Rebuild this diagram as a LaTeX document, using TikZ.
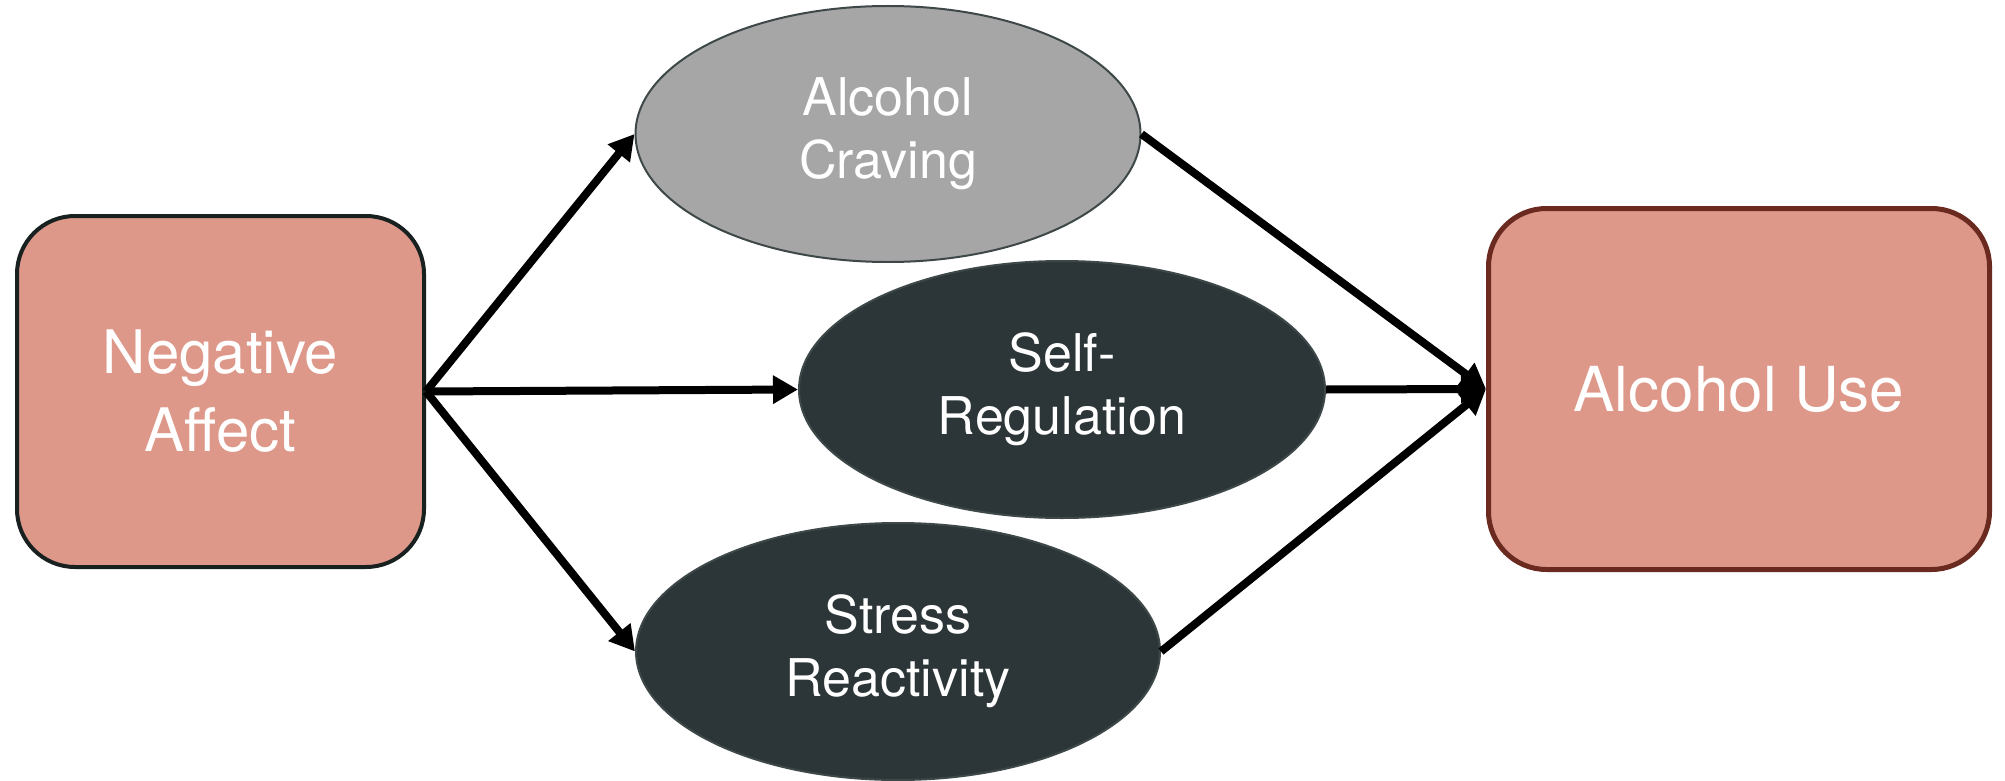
\documentclass[tikz,border=0pt]{standalone}
\usepackage{fontspec}
\setmainfont{TeX Gyre Heros}
\usetikzlibrary{shapes.geometric,arrows.meta}
\definecolor{salmon}{HTML}{DE988A}
\definecolor{boxline}{HTML}{182020}
\definecolor{useline}{HTML}{6B2A20}
\definecolor{cravefill}{HTML}{A6A6A6}
\definecolor{darkfill}{HTML}{2C3537}
\definecolor{ovalline}{HTML}{3E4848}
\tikzset{
  factor/.style={rectangle, rounded corners=58pt, fill=salmon, inner sep=0pt,
    text=white, align=center},
  mediator/.style={ellipse, inner sep=0pt, draw=ovalline, line width=2pt,
    text=white, align=center, font=\fontsize{52}{63}\selectfont},
  path arrow/.style={line width=8pt, -{Triangle[length=25pt,width=27pt]}}
}
\begin{document}
\begin{tikzpicture}[x=1pt,y=-1pt]
\useasboundingbox (0,0) rectangle (2005,781);
% outcome and predictor boxes
\node[factor, draw=boxline, line width=4pt, minimum width=407pt, minimum height=351pt,
  font=\fontsize{60}{78}\selectfont]
  (na) at (220.5,391.5) {Negative\\Affect};
\node[factor, draw=useline, line width=5pt, minimum width=501pt, minimum height=361pt,
  font=\fontsize{62}{78}\selectfont]
  (au) at (1739,389) {Alcohol Use};
% mediators
\node[mediator, fill=cravefill, minimum width=505pt, minimum height=256pt]
  (crave) at (888,134) {Alcohol\\Craving};
\node[mediator, fill=darkfill, minimum width=526pt, minimum height=257pt]
  (selfreg) at (1062,389.5) {Self-\\Regulation};
\node[mediator, fill=darkfill, minimum width=524pt, minimum height=257pt]
  (stress) at (898,651.5) {Stress\\Reactivity};
% paths from predictor to mediators
\draw[path arrow] (na.east) -- (crave.west);
\draw[path arrow] (na.east) -- (selfreg.west);
\draw[path arrow] (na.east) -- (stress.west);
% paths from mediators to outcome
\draw[path arrow] (crave.east) -- (au.west);
\draw[path arrow] (selfreg.east) -- (au.west);
\draw[path arrow] (stress.east) -- (au.west);
\end{tikzpicture}
\end{document}
